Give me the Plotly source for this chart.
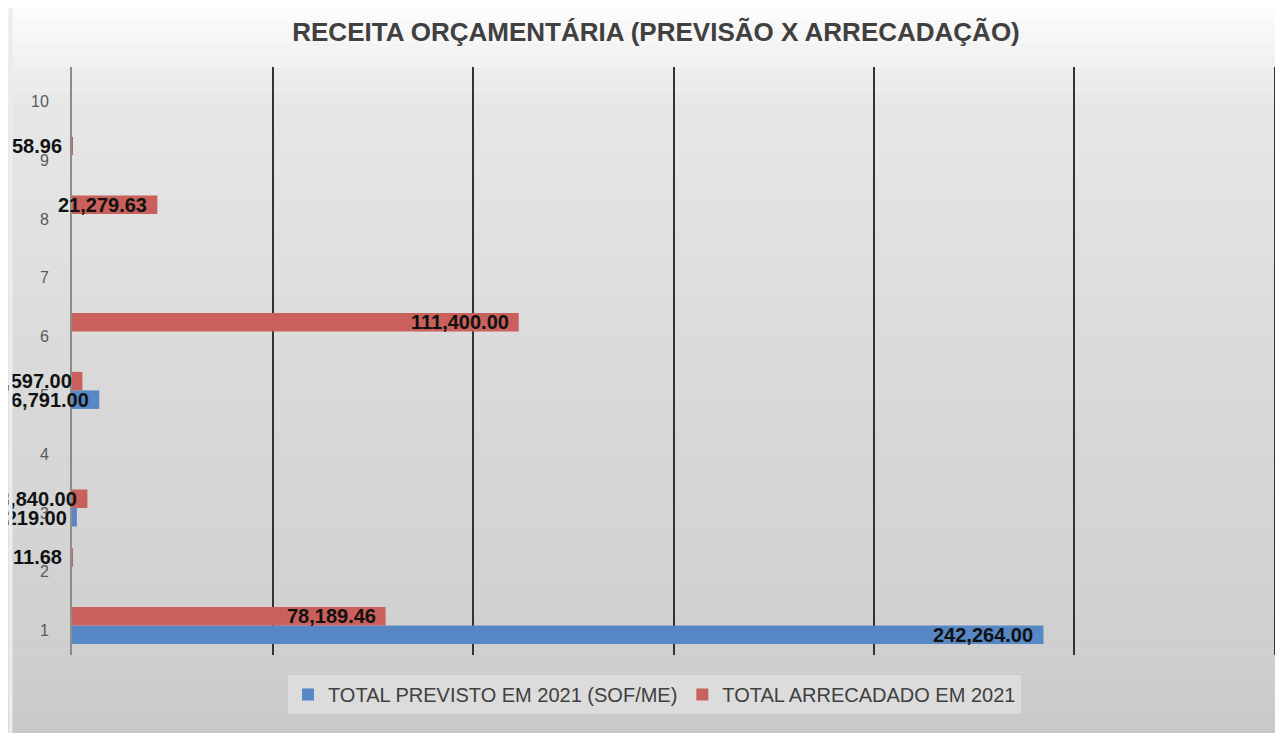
import plotly.graph_objects as go

# ---- data ----
categories = ["1", "2", "3", "4", "5", "6", "7", "8", "9", "10"]
previsto = [242264.00, None, 1219.00, None, 6791.00, None, None, None, None, None]
arrecadado = [78189.46, 11.68, 3840.00, None, 2597.00, 111400.00, None, 21279.63, 58.96, None]
series_names = ["TOTAL PREVISTO EM 2021 (SOF/ME)", "TOTAL ARRECADADO EM 2021"]
title_text = "RECEITA ORÇAMENTÁRIA (PREVISÃO X ARRECADAÇÃO)"
x_ticks = [0, 50000, 100000, 150000, 200000, 250000, 300000]

BLUE = "#5787c4"
RED = "#c9605c"

# page has an 8px body margin, figure is sized to fill the rest of the window
W, H = 1275, 725
ML, MR, MT, MB = 64, 4, 59, 78
PW, PH = W - ML - MR, H - MT - MB

fig = go.Figure()
fig.add_trace(go.Bar(y=categories, x=previsto, orientation="h", name=series_names[0],
                     marker=dict(color=BLUE, line=dict(width=0))))
fig.add_trace(go.Bar(y=categories, x=arrecadado, orientation="h", name=series_names[1],
                     marker=dict(color=RED, line=dict(width=0))))

# data labels (inside end, overflowing left like the original)
annotations = []
for vals, shift in ((previsto, -9.5), (arrecadado, 9.5)):
    for i, v in enumerate(vals):
        if v is None:
            continue
        annotations.append(dict(x=v, y=i, xref="x", yref="y", text=f"{v:,.2f}",
                                showarrow=False, xanchor="right", yanchor="middle",
                                xshift=-8, yshift=shift,
                                font=dict(family="Liberation Sans, Arial", size=20,
                                          color="#111111", weight="bold")))

# thin left strip (clips labels like the original frame edge)
annotations.append(dict(x=-ML / PW, y=(H - MB) / PH, xref="paper", yref="paper",
                        xanchor="left", yanchor="top", text=" ", showarrow=False,
                        width=3, height=H, bgcolor="#ececec", borderpad=0))

# background vertical gradient via bands
stops = [(0, 252), (50, 242), (100, 231), (340, 219), (640, 207), (725, 201)]
shapes = []
nb = 60
for k in range(nb):
    y0 = k * H / nb
    y1 = (k + 1) * H / nb
    ym = (y0 + y1) / 2
    for (a, ca), (b, cb) in zip(stops[:-1], stops[1:]):
        if a <= ym <= b:
            g = int(round(ca + (cb - ca) * (ym - a) / (b - a)))
            break
    col = f"rgb({g},{g},{g})"
    shapes.append(dict(type="rect", xref="paper", yref="paper", layer="below",
                       x0=-ML / PW, x1=1 + MR / PW,
                       y0=(H - MB - y1) / PH, y1=(H - MB - y0) / PH,
                       fillcolor=col, line=dict(width=0)))

fig.update_layout(
    width=W, height=H,
    margin=dict(l=ML, r=MR, t=MT, b=MB, pad=0, autoexpand=False),
    paper_bgcolor="#e0e0e0",
    plot_bgcolor="rgba(0,0,0,0)",
    barmode="group", bargap=0.37, bargroupgap=0.0,
    title=dict(text=title_text, x=(648 - ML) / PW, xref="paper", xanchor="center",
               y=1 - 24 / H, yanchor="middle",
               font=dict(family="Liberation Sans, Arial", size=26, color="#404040", weight="bold")),
    xaxis=dict(range=[0, 301000], tickvals=x_ticks, showticklabels=False, showgrid=True,
               gridcolor="#333333", gridwidth=2, zeroline=False, showline=False, ticks="",
               automargin=False),
    yaxis=dict(type="category", showgrid=False, zeroline=False, showline=True,
               linecolor="#8c8c8c", linewidth=2, ticks="", ticklabelstandoff=18,
               ticklabelshift=5, automargin=False,
               tickfont=dict(family="Liberation Sans, Arial", size=16, color="#595959")),
    legend=dict(orientation="h", x=(280 - ML) / PW, xanchor="left",
                y=-(667 - (H - MB)) / PH, yanchor="top", bgcolor="#dcdcdc",
                font=dict(family="Liberation Sans, Arial", size=20, color="#404040"),
                traceorder="normal", itemwidth=30),
    annotations=annotations,
    shapes=shapes,
    showlegend=True,
)

fig.write_html("out.html")
